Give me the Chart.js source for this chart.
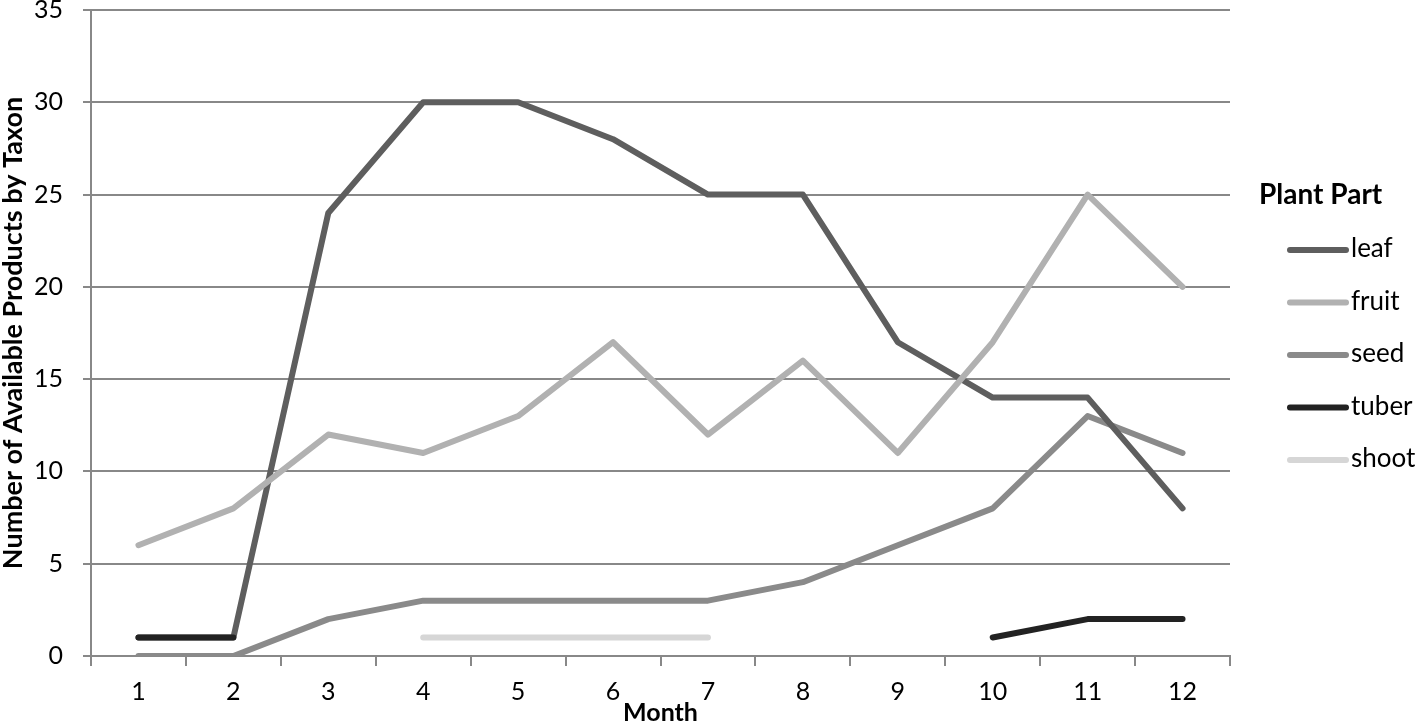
<!DOCTYPE html>
<html>
<head>
<meta charset="utf-8">
<script src="https://cdn.jsdelivr.net/npm/chart.js@4/dist/chart.umd.min.js"></script>
<style>
  html, body { margin: 0; padding: 0; background: #fff; overflow: hidden; }
  canvas { display: block; }
</style>
</head>
<body>
<canvas id="chart" width="1418" height="724"></canvas>
<script>
const months = ['1', '2', '3', '4', '5', '6', '7', '8', '9', '10', '11', '12'];
const leaf  = [1, 1, 24, 30, 30, 28, 25, 25, 17, 14, 14, 8];
const fruit = [6, 8, 12, 11, 13, 17, 12, 16, 11, 17, 25, 20];
const seed  = [0, 0, 2, 3, 3, 3, 3, 4, 6, 8, 13, 11];
const tuber = [1, 1, null, null, null, null, null, null, null, 1, 2, 2];
const shoot = [null, null, null, 1, 1, 1, 1, null, null, null, null, null];
const yTicks = [0, 5, 10, 15, 20, 25, 30, 35];

const FONT = 'Lato, "Liberation Sans", sans-serif';
const GRID = '#888888';

function line(label, data, color, order) {
    return {
        label: label,
        data: data,
        borderColor: color,
        backgroundColor: color,
        borderWidth: 6,
        borderCapStyle: 'round',
        borderJoinStyle: 'round',
        pointRadius: 0,
        spanGaps: false,
        tension: 0,
        order: order
    };
}

// legend drawn on the canvas, right side
const sideLegend = {
    id: 'sideLegend',
    afterDraw(chart) {
        const ctx = chart.ctx;
        ctx.save();
        ctx.fillStyle = '#000';
        ctx.textBaseline = 'middle';
        ctx.font = 'bold 28px ' + FONT;
        ctx.fillText('Plant Part', 1259, 195);
        ctx.font = '26px ' + FONT;
        chart.data.datasets.forEach((ds, i) => {
            const y = 250 + i * 52.5;
            ctx.strokeStyle = ds.borderColor;
            ctx.lineWidth = 6;
            ctx.lineCap = 'round';
            ctx.beginPath();
            ctx.moveTo(1290, y);
            ctx.lineTo(1346, y);
            ctx.stroke();
            ctx.fillText(ds.label, 1351, y - 1);
        });
        ctx.restore();
    }
};

new Chart(document.getElementById('chart'), {
    type: 'line',
    data: {
        labels: months,
        datasets: [
            line('leaf', leaf, '#5e5e5e', 3),
            line('fruit', fruit, '#b1b1b1', 2),
            line('seed', seed, '#8a8a8a', 4),
            line('tuber', tuber, '#222222', 0),
            line('shoot', shoot, '#d6d6d6', 1)
        ]
    },
    options: {
        responsive: false,
        animation: false,
        devicePixelRatio: 1,
        layout: { padding: { top: 10, right: 188, left: 0, bottom: 0 } },
        plugins: {
            legend: { display: false },
            tooltip: { enabled: false }
        },
        scales: {
            x: {
                offset: true,
                grid: {
                    offset: true,
                    drawOnChartArea: false,
                    drawTicks: true,
                    tickLength: 10,
                    color: GRID,
                    lineWidth: 2
                },
                border: { color: GRID, width: 2 },
                ticks: {
                    color: '#000',
                    padding: 11,
                    maxRotation: 0,
                    font: { family: FONT, size: 25 }
                },
                title: {
                    display: true,
                    text: 'Month',
                    color: '#000',
                    font: { family: FONT, size: 25, weight: 'bold', lineHeight: 1 },
                    padding: { top: 0, bottom: -1 }
                },
                afterFit(scale) {
                    scale.height = 68;
                    scale.paddingLeft = 0;
                    scale.paddingRight = 0;
                }
            },
            y: {
                min: 0,
                max: 35,
                afterBuildTicks(scale) { scale.ticks = yTicks.map(v => ({ value: v })); },
                grid: {
                    color: GRID,
                    lineWidth: 2,
                    tickLength: 8
                },
                border: { color: GRID, width: 2 },
                ticks: {
                    color: '#000',
                    padding: 20,
                    font: { family: FONT, size: 25 }
                },
                title: {
                    display: true,
                    text: 'Number of Available Products by Taxon',
                    color: '#000',
                    font: { family: FONT, size: 27, weight: 'bold', lineHeight: 1 },
                    padding: { top: 0, bottom: 0 }
                },
                afterFit(scale) {
                    scale.width = 91;
                    scale.paddingTop = 0;
                    scale.paddingBottom = 0;
                }
            }
        }
    },
    plugins: [sideLegend]
});
</script>
</body>
</html>
